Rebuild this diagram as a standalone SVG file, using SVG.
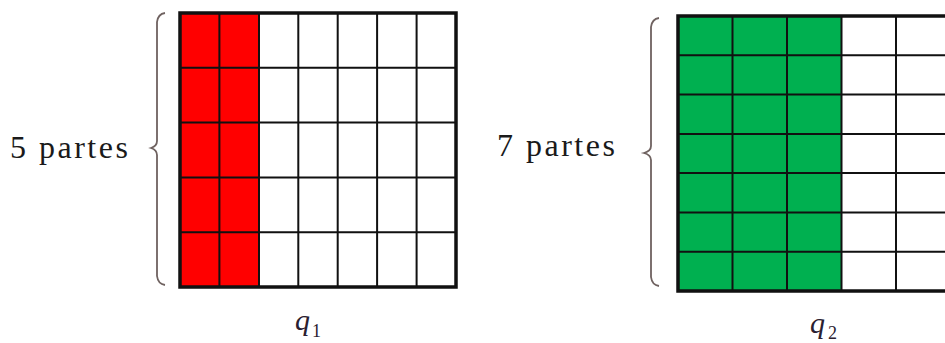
<svg xmlns="http://www.w3.org/2000/svg" width="945" height="343" viewBox="0 0 945 343">
<style>
.lbl{font-family:"Liberation Serif","Times New Roman",serif;font-size:32px;fill:#1a1a1a;letter-spacing:2.5px}
.q{font-family:"Liberation Serif","Times New Roman",serif;font-style:italic;font-size:30px;fill:#2a2030}
.sub{font-family:"Liberation Serif","Times New Roman",serif;font-size:18px;fill:#2a2030}
.in{stroke:#111;stroke-width:2;fill:none}
.out{stroke:#111;stroke-width:3.5;fill:none}
.brace{stroke:#6f6260;stroke-width:1.8;fill:none}
</style>
<rect width="945" height="343" fill="#fff"/>
<g id="grid1">
<rect x="180" y="13" width="79" height="274" fill="#ff0000"/>
<path class="in" d="M219.4,13V287M259,13V287M298.3,13V287M337.7,13V287M377.1,13V287M416.6,13V287M180,67.8H456M180,122.6H456M180,177.4H456M180,232.2H456"/>
<rect class="out" x="180" y="13" width="276" height="274"/>
</g>
<g id="grid2">
<rect x="678" y="16" width="163.5" height="275" fill="#00b050"/>
<path class="in" d="M732.5,16V291M787,16V291M841.5,16V291M896,16V291M678,55.3H950M678,94.6H950M678,133.9H950M678,173.1H950M678,212.4H950M678,251.7H950"/>
<rect class="out" x="678" y="16" width="280" height="275"/>
</g>
<g id="brace1">
<path class="brace" d="M165,13 Q158,14 157,22 L157,141 Q157,146 151,148 Q157,150 157,155 L157,276 Q158,284 165,285"/>
<text class="lbl" x="10" y="158">5 partes</text>
</g>
<g id="brace2">
<path class="brace" d="M659,18 Q652,19 651,27 L651,146 Q651,151 644,153 Q651,155 651,160 L651,277 Q652,285 659,286"/>
<text class="lbl" x="497" y="156">7 partes</text>
</g>
<g id="label1"><text class="q" x="295" y="330">q</text><text class="sub" x="312" y="337">1</text></g>
<g id="label2"><text class="q" x="810" y="333">q</text><text class="sub" x="828" y="339">2</text></g>
</svg>
